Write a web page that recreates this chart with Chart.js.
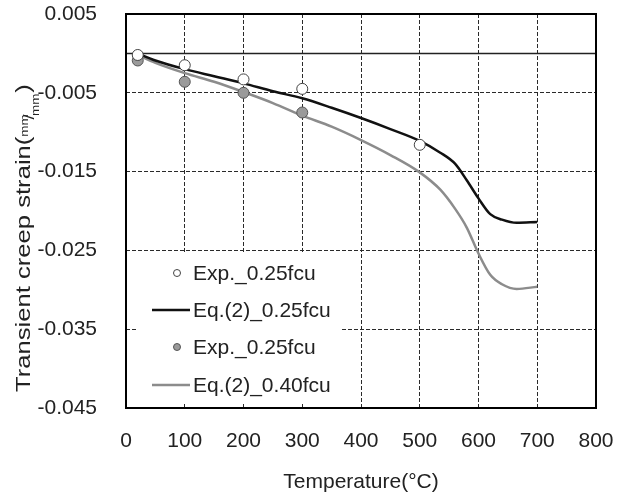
<!DOCTYPE html>
<html>
<head>
<meta charset="utf-8">
<script src="https://cdn.jsdelivr.net/npm/chart.js@4.4.0/dist/chart.umd.min.js"></script>
<style>
  html, body { margin: 0; padding: 0; background: #fff; }
  #wrap { width: 627px; height: 500px; }
</style>
</head>
<body>
<div id="wrap"><canvas id="myChart" width="627" height="500"></canvas></div>
<script>
// temperatures for the model curves
const temps = [20, 50, 100, 150, 200, 250, 300, 350, 400, 450, 500, 535, 560, 580, 600, 620, 640, 665, 700];
const eq025 = [0, -0.0009, -0.0020, -0.0029, -0.0038, -0.0048, -0.0057, -0.0069, -0.0082, -0.0096, -0.0111, -0.0126, -0.0140, -0.0161, -0.0184, -0.0204, -0.0211, -0.0215, -0.0214];
const eq040 = [-0.0002, -0.0012, -0.0025, -0.0036, -0.0049, -0.0063, -0.0079, -0.0093, -0.0110, -0.0129, -0.0151, -0.0173, -0.0197, -0.0221, -0.0254, -0.0281, -0.0293, -0.0299, -0.0296];

// measured points
const expTempsA = [20, 100, 200, 300, 500];
const expA = [-0.0002, -0.0015, -0.0033, -0.0045, -0.0116];
const expTempsB = [20, 100, 200, 300];
const expB = [-0.0009, -0.0036, -0.0050, -0.0075];

const xTicks = [0, 100, 200, 300, 400, 500, 600, 700, 800];
const yTicks = [0.005, -0.005, -0.015, -0.025, -0.035, -0.045];

const labels = ['Exp._0.25fcu', 'Eq.(2)_0.25fcu', 'Exp._0.25fcu', 'Eq.(2)_0.40fcu'];

function pts(xs, ys) {
  return xs.map(function (x, i) { return { x: x, y: ys[i] }; });
}

var data = {
  datasets: [{
    label: labels[0],
    data: pts(expTempsA, expA),
    showLine: false,
    pointRadius: 5.5,
    pointBackgroundColor: '#ffffff',
    pointBorderColor: '#444444',
    pointBorderWidth: 1,
    order: 0
  }, {
    label: labels[1],
    data: pts(temps, eq025),
    showLine: true,
    borderColor: '#111111',
    borderWidth: 2.5,
    pointRadius: 0,
    cubicInterpolationMode: 'monotone',
    order: 2
  }, {
    label: labels[2],
    data: pts(expTempsB, expB),
    showLine: false,
    pointRadius: 5.5,
    pointBackgroundColor: '#9a9a9a',
    pointBorderColor: '#555555',
    pointBorderWidth: 1,
    order: 1
  }, {
    label: labels[3],
    data: pts(temps, eq040),
    showLine: true,
    borderColor: '#8c8c8c',
    borderWidth: 2.5,
    pointRadius: 0,
    cubicInterpolationMode: 'monotone',
    order: 3
  }]
};

// frame, zero line, inner legend and y title
const extras = {
  id: 'extras',
  beforeDatasetsDraw(chart) {
    const ctx = chart.ctx, a = chart.chartArea;
    const y0 = chart.scales.y.getPixelForValue(0);
    ctx.save();
    ctx.strokeStyle = '#222';
    ctx.lineWidth = 1.5;
    ctx.beginPath();
    ctx.moveTo(a.left, y0);
    ctx.lineTo(a.right, y0);
    ctx.stroke();
    // legend background
    ctx.fillStyle = '#fff';
    ctx.fillRect(a.left + 11, a.top + 240, 205, 148);
    ctx.restore();
  },
  afterDatasetsDraw(chart) {
    const ctx = chart.ctx, a = chart.chartArea;
    const rows = [259, 296, 333, 371];
    ctx.save();
    ctx.font = '21px "Liberation Sans", Arial, sans-serif';
    ctx.textBaseline = 'middle';
    chart.data.datasets.forEach(function (ds, i) {
      const y = a.top + rows[i];
      if (ds.showLine === false) {
        ctx.beginPath();
        ctx.arc(a.left + 51, y, 3.5, 0, Math.PI * 2);
        ctx.fillStyle = ds.pointBackgroundColor;
        ctx.fill();
        ctx.lineWidth = 1;
        ctx.strokeStyle = ds.pointBorderColor;
        ctx.stroke();
      } else {
        ctx.beginPath();
        ctx.moveTo(a.left + 26, y);
        ctx.lineTo(a.left + 64, y);
        ctx.lineWidth = ds.borderWidth;
        ctx.strokeStyle = ds.borderColor;
        ctx.stroke();
      }
      ctx.fillStyle = '#222';
      ctx.fillText(ds.label, a.left + 67, y + 1);
    });
    ctx.restore();
  },
  afterDraw(chart) {
    const ctx = chart.ctx, a = chart.chartArea;
    ctx.save();
    ctx.strokeStyle = '#000';
    ctx.lineWidth = 2;
    ctx.strokeRect(a.left, a.top, a.right - a.left, a.bottom - a.top);

    // y axis title
    ctx.translate(30, 392);
    ctx.rotate(-Math.PI / 2);
    ctx.scale(1.22, 1);
    ctx.fillStyle = '#222';
    ctx.textBaseline = 'alphabetic';
    ctx.font = '21px "Liberation Sans", Arial, sans-serif';
    const main = 'Transient creep strain(';
    ctx.fillText(main, 0, 0);
    let w = ctx.measureText(main).width;
    ctx.font = '11px "Liberation Sans", Arial, sans-serif';
    ctx.fillText('mm', w, -2);
    ctx.font = '15px "Liberation Sans", Arial, sans-serif';
    ctx.fillText('/', w + 14, 4);
    ctx.font = '11px "Liberation Sans", Arial, sans-serif';
    ctx.fillText('mm', w + 17, 9);
    ctx.font = '21px "Liberation Sans", Arial, sans-serif';
    ctx.fillText(')', w + 36, 0);
    ctx.restore();
  }
};

function noPad(scale) {
  scale.paddingTop = 0;
  scale.paddingBottom = 0;
  scale.paddingLeft = 0;
  scale.paddingRight = 0;
}

var config = {
  type: 'scatter',
  data: data,
  options: {
    responsive: false,
    animation: false,
    layout: { padding: { left: 37, right: 31, top: 14, bottom: 0 } },
    plugins: {
      legend: { display: false },
      tooltip: { enabled: false }
    },
    scales: {
      x: {
        type: 'linear',
        min: 0,
        max: 800,
        afterBuildTicks: function (scale) {
          scale.ticks = xTicks.map(function (v) { return { value: v }; });
        },
        afterFit: function (scale) {
          noPad(scale);
          scale.height = 92;
        },
        ticks: {
          padding: 21,
          color: '#222',
          font: { family: '"Liberation Sans", Arial, sans-serif', size: 21 },
          maxRotation: 0,
          autoSkip: false
        },
        grid: {
          drawTicks: false,
          color: '#2a2a2a',
          lineWidth: 1
        },
        border: { display: false, dash: [4, 2] },
        title: {
          display: true,
          text: 'Temperature(°C)',
          color: '#222',
          font: { family: '"Liberation Sans", Arial, sans-serif', size: 21 },
          padding: { top: 16, bottom: 5 }
        }
      },
      y: {
        type: 'linear',
        min: -0.045,
        max: 0.005,
        afterBuildTicks: function (scale) {
          scale.ticks = yTicks.map(function (v) { return { value: v }; });
        },
        afterFit: function (scale) {
          noPad(scale);
          scale.width = 89;
        },
        ticks: {
          padding: 29,
          color: '#222',
          font: { family: '"Liberation Sans", Arial, sans-serif', size: 21 },
          callback: function (v) { return v.toFixed(3); }
        },
        grid: {
          drawTicks: false,
          color: '#2a2a2a',
          lineWidth: 1
        },
        border: { display: false, dash: [4, 2] }
      }
    }
  },
  plugins: [extras]
};

var myChart = new Chart(document.getElementById('myChart'), config);
</script>
</body>
</html>
